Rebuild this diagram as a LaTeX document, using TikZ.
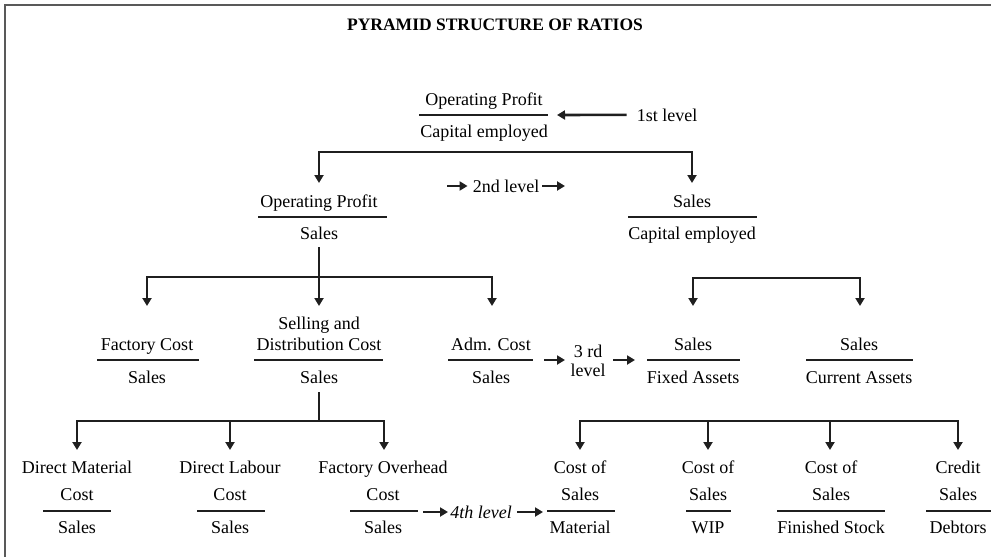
\documentclass[tikz,border=0pt]{standalone}
\usepackage{fontspec}
\setmainfont{Liberation Serif}
\usetikzlibrary{arrows.meta}
\begin{document}
\begin{tikzpicture}[x=1pt,y=-1pt,
  txt/.style={inner sep=0pt, anchor=base, font=\fontsize{18}{21}\selectfont},
  ttl/.style={inner sep=0pt, anchor=base, font=\fontsize{17.5}{21}\selectfont\bfseries},
  itx/.style={txt, font=\fontsize{18}{21}\selectfont\itshape},
  bar/.style={line width=2.6pt, color=black!88},
  conn/.style={line width=2.6pt, color=black!88},
  arr/.style={conn, -{Triangle[length=8pt,width=9pt]}},
  arrs/.style={conn, {Triangle[length=8pt,width=9pt]}-{Triangle[length=8pt,width=9pt]}},
  frm/.style={line width=2pt, color=black!65}
]
\useasboundingbox (0,0) rectangle (991,557);
% frame (cropped: top and left edges only)
\coordinate (fBL) at (5,557);
\coordinate (fTL) at (5,5);
\coordinate (fTR) at (991,5);
\draw[frm] (fBL) -- (fTL) -- (fTR);

% title
\node[ttl] (title) at (495,30) {PYRAMID STRUCTURE OF RATIOS};

% ---------- level 1
\node[txt] (n1) at (484,105) {Operating Profit};
\node[txt] (d1) at (484,137) {Capital employed};
\draw[bar] (419,115) -- (548,115);
\node[txt] (l1) at (667,121) {1st level};
\coordinate (a1) at (557,115);
\draw[arr] (l1.west) ++(-10,0) -- (a1);

% bus 1
\coordinate (b1L) at (319,152);
\coordinate (b1R) at (692,152);
\coordinate (t2L) at (319,183);
\coordinate (t2R) at (692,183);
\draw[arrs] (t2L) -- (b1L) -- (b1R) -- (t2R);

% 2nd level label
\node[txt] (l2) at (506,192) {2nd level};
\coordinate (a2s) at (447,186);
\coordinate (a2e) at (565,186);
\draw[arr] (a2s) -- ([xshift=-5pt]l2.west |- a2s);
\draw[arr] ([xshift=3pt]l2.east |- a2e) -- (a2e);

% ---------- level 2
\node[txt] (n2L) at (319,207) {Operating Profit};
\node[txt] (d2L) at (319,239) {Sales};
\draw[bar] (258,217) -- (387,217);
\node[txt] (n2R) at (692,207) {Sales};
\node[txt] (d2R) at (692,239) {Capital employed};
\draw[bar] (628,217) -- (757,217);

% stem + bus 2 left
\coordinate (t3S) at (319,306);
\coordinate (t3F) at (147,306);
\coordinate (t3A) at (492,306);
\coordinate (b2L) at (147,277);
\coordinate (b2R) at (492,277);
\draw[arr] (d2L.south) ++(0,8) -- (t3S);
\draw[arrs] (t3F) -- (b2L) -- (b2R) -- (t3A);

% bus 2 right
\coordinate (t3FA) at (693,306);
\coordinate (t3CA) at (860,306);
\coordinate (b2RL) at (693,278);
\coordinate (b2RR) at (860,278);
\draw[arrs] (t3FA) -- (b2RL) -- (b2RR) -- (t3CA);

% ---------- level 3
\node[txt] (n3F) at (147,350) {Factory Cost};
\node[txt] (d3F) at (147,383) {Sales};
\draw[bar] (97,360) -- (199,360);

\node[txt] (n3Sa) at (319,329) {Selling and};
\node[txt] (n3Sb) at (319,350) {Distribution Cost};
\node[txt] (d3S) at (319,383) {Sales};
\draw[bar] (254,360) -- (383,360);

\node[txt] (n3A) at (491,350) {Adm. Cost};
\node[txt] (d3A) at (491,383) {Sales};
\draw[bar] (448,360) -- (533,360);

\node[txt] (l3a) at (588,357) {3 rd};
\node[txt] (l3b) at (588,376) {level};
\coordinate (a3s) at (544,360);
\coordinate (a3m) at (565,360);
\coordinate (a3n) at (613,360);
\coordinate (a3e) at (635,360);
\draw[arr] (a3s) -- (a3m);
\draw[arr] (a3n) -- (a3e);

\node[txt] (n3FA) at (693,350) {Sales};
\node[txt] (d3FA) at (693,383) {Fixed Assets};
\draw[bar] (647,360) -- (740,360);

\node[txt] (n3CA) at (859,350) {Sales};
\node[txt] (d3CA) at (859,383) {Current Assets};
\draw[bar] (806,360) -- (913,360);

% stem + bus 3 left
\coordinate (b3M) at (319,421);
\coordinate (b3L) at (77,421);
\coordinate (b3R) at (384,421);
\coordinate (b3C) at (230,421);
\coordinate (t4DM) at (77,450);
\coordinate (t4DL) at (230,450);
\coordinate (t4FO) at (384,450);
\draw[conn] (d3S.south) ++(0,9) -- (b3M);
\draw[arrs] (t4DM) -- (b3L) -- (b3R) -- (t4FO);
\draw[arr] (b3C) -- (t4DL);

% bus 3 right
\coordinate (c3L) at (580,421);
\coordinate (c3R) at (958,421);
\coordinate (c3a) at (708,421);
\coordinate (c3b) at (830,421);
\coordinate (t4CM) at (580,450);
\coordinate (t4CW) at (708,450);
\coordinate (t4CF) at (830,450);
\coordinate (t4CD) at (958,450);
\draw[arrs] (t4CM) -- (c3L) -- (c3R) -- (t4CD);
\draw[arr] (c3a) -- (t4CW);
\draw[arr] (c3b) -- (t4CF);

% ---------- level 4
\node[txt] (n4DMa) at (77,473) {Direct Material};
\node[txt] (n4DMb) at (77,500) {Cost};
\node[txt] (d4DM) at (77,533) {Sales};
\draw[bar] (43,511) -- (111,511);

\node[txt] (n4DLa) at (230,473) {Direct Labour};
\node[txt] (n4DLb) at (230,500) {Cost};
\node[txt] (d4DL) at (230,533) {Sales};
\draw[bar] (197,511) -- (265,511);

\node[txt] (n4FOa) at (383,473) {Factory Overhead};
\node[txt] (n4FOb) at (383,500) {Cost};
\node[txt] (d4FO) at (383,533) {Sales};
\draw[bar] (350,511) -- (418,511);

\node[itx] (l4) at (481,518) {4th level};
\coordinate (a4s) at (423,512);
\coordinate (a4m) at (448,512);
\coordinate (a4n) at (517,512);
\coordinate (a4e) at (543,512);
\draw[arr] (a4s) -- (a4m);
\draw[arr] (a4n) -- (a4e);

\node[txt] (n4CMa) at (580,473) {Cost of};
\node[txt] (n4CMb) at (580,500) {Sales};
\node[txt] (d4CM) at (580,533) {Material};
\draw[bar] (547,511) -- (615,511);

\node[txt] (n4CWa) at (708,473) {Cost of};
\node[txt] (n4CWb) at (708,500) {Sales};
\node[txt] (d4CW) at (708,533) {WIP};
\draw[bar] (686,511) -- (731,511);

\node[txt] (n4CFa) at (831,473) {Cost of};
\node[txt] (n4CFb) at (831,500) {Sales};
\node[txt] (d4CF) at (831,533) {Finished Stock};
\draw[bar] (777,511) -- (885,511);

\node[txt] (n4CDa) at (958,473) {Credit};
\node[txt] (n4CDb) at (958,500) {Sales};
\node[txt] (d4CD) at (958,533) {Debtors};
\draw[bar] (926,511) -- (991,511);
\end{tikzpicture}
\end{document}
